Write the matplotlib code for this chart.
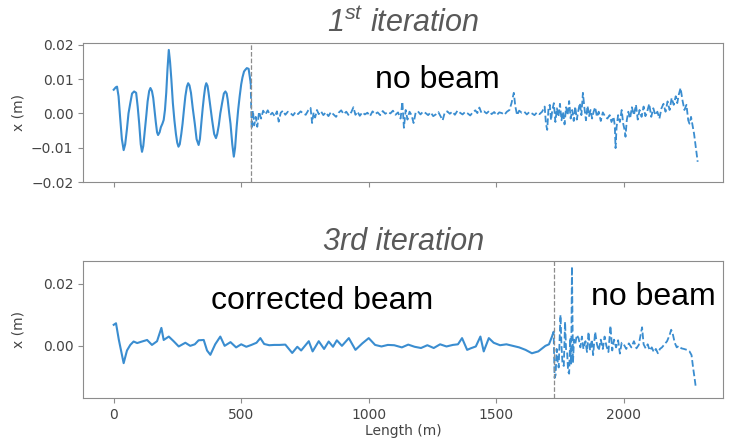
import numpy as np
import matplotlib
matplotlib.use('Agg')
import matplotlib.pyplot as plt

plt.rcParams['mathtext.fontset'] = 'custom'
plt.rcParams['mathtext.it'] = 'Liberation Sans:italic'
plt.rcParams['mathtext.rm'] = 'Liberation Sans:italic'

# 1st iteration, beam part (s in m, x in mm)
s1_beam = [0, 8, 13, 19, 25, 32, 39, 45, 52, 58,
           65, 72, 80, 88, 94, 100, 106, 111, 116, 122,
           128, 133, 139, 144, 150, 155, 160, 165, 170, 174,
           180, 185, 191, 196, 201, 206, 211, 216, 221, 226,
           232, 238, 244, 249, 254, 259, 265, 270, 276, 281,
           287, 292, 297, 303, 310, 318, 325, 333, 338, 344,
           349, 354, 359, 363, 368, 372, 379, 386, 394, 401,
           406, 412, 418, 425, 432, 438, 443, 447, 453, 458,
           465, 471, 476, 482, 488, 494, 500, 505, 511, 516,
           522, 529, 537]
x1_beam = [6.9, 7.6, 7.8, 5.0, -1.0, -7.5, -10.7, -9.0, -4.5, 0.0,
           3.0, 5.8, 6.4, 6.0, 2.0, -3.0, -9.0, -11.2, -9.5, -5.0,
           -0.5, 3.5, 6.5, 7.4, 6.5, 4.5, 1.0, -2.5, -5.5, -6.3,
           -5.5, -4.0, -3.0, -1.9, 1.0, 6.0, 13.0, 18.5, 15.0, 10.0,
           3.0, -2.0, -6.0, -8.5, -9.7, -9.0, -6.0, -3.0, 1.5, 5.0,
           7.8, 8.8, 8.2, 6.0, 1.5, -3.0, -7.5, -9.2, -7.5, -2.5,
           1.5, 5.0, 7.8, 8.8, 8.0, 6.0, 2.0, -2.0, -6.0, -7.2,
           -6.0, -3.5, 0.0, 3.0, 5.8, 6.4, 5.8, 4.0, 0.0, -3.0,
           -9.0, -12.6, -10.0, -4.0, 1.0, 5.0, 8.5, 10.5, 12.2, 12.7,
           13.2, 13.0, 9.0]

# 1st iteration, no beam part
s1_nobeam = [537, 541, 546, 551, 557, 563, 570, 578, 586, 595,
             604, 613, 622, 632, 640, 647, 655, 664, 673, 683,
             693, 703, 713, 723, 733, 743, 753, 763, 772, 778,
             784, 790, 797, 804, 813, 822, 832, 842, 852, 862,
             872, 882, 892, 902, 912, 922, 932, 940, 948, 956,
             965, 975, 985, 995, 1005, 1015, 1025, 1035, 1045, 1055,
             1065, 1075, 1085, 1095, 1105, 1115, 1125, 1132, 1138, 1145,
             1152, 1160, 1168, 1176, 1184, 1193, 1203, 1213, 1223, 1233,
             1243, 1253, 1263, 1273, 1283, 1290, 1298, 1308, 1318, 1328,
             1338, 1348, 1358, 1368, 1378, 1388, 1398, 1408, 1418, 1426,
             1434, 1442, 1452, 1462, 1472, 1482, 1492, 1502, 1512, 1522,
             1532, 1542, 1552, 1560, 1569, 1575, 1582, 1590, 1600, 1610,
             1620, 1630, 1640, 1650, 1660, 1670, 1680, 1690, 1695, 1700,
             1705, 1710, 1715, 1720, 1726, 1732, 1738, 1744, 1750, 1756,
             1762, 1768, 1774, 1780, 1786, 1792, 1798, 1804, 1810, 1816,
             1822, 1828, 1834, 1840, 1846, 1852, 1858, 1864, 1870, 1876,
             1882, 1888, 1895, 1902, 1910, 1918, 1928, 1936, 1945, 1952,
             1960, 1965, 1968, 1972, 1978, 1985, 1992, 1998, 2004, 2007,
             2012, 2018, 2025, 2032, 2040, 2048, 2055, 2062, 2070, 2078,
             2085, 2092, 2100, 2108, 2116, 2124, 2132, 2140, 2148, 2156,
             2164, 2172, 2180, 2188, 2196, 2204, 2210, 2216, 2223, 2230,
             2238, 2246, 2253, 2258, 2264, 2270, 2276, 2283, 2290]
x1_nobeam = [9.0, -4.5, 0.8, -3.5, -1.0, -3.9, 0.5, -1.5, 0.8, -0.3,
             0.9, -0.5, 0.2, -0.9, 0.6, -2.4, 0.2, 0.8, -0.4, 0.5,
             0.1, -0.6, 0.4, -0.2, 0.6, 0.0, -0.4, 0.9, 1.6, -2.8,
             0.3, -1.2, 1.0, -0.2, 0.6, -0.5, 0.3, -0.8, 0.4, -0.3,
             -1.0, 0.2, 0.9, -0.2, 0.5, -0.6, 0.4, 1.8, -0.4, 0.5,
             -0.7, 0.3, -0.3, 0.2, -0.8, 0.6, -0.2, 0.3, -0.5, 0.7,
             -0.1, 0.4, 0.0, 0.8, -0.4, 0.3, -1.5, 3.4, -4.2, 1.0,
             -1.8, 0.5, -0.5, -2.8, 0.2, 0.6, -0.3, 0.5, 0.1, -0.5,
             0.3, -0.8, -0.3, 0.4, -1.0, -2.0, 0.2, 0.6, -0.1, 0.5,
             -0.4, 0.8, 0.2, -0.3, 0.4, 0.0, -0.6, 0.3, 0.9, 0.1,
             1.7, 0.2, 0.6, 0.0, 0.7, -0.2, 0.4, -0.5, 0.3, 0.1,
             -0.4, 0.5, 1.0, 3.0, 6.0, 2.0, -0.5, 0.8, 0.2, 0.5,
             -0.3, 0.4, 0.0, -0.5, 0.3, -0.2, 0.5, 2.0, -3.0, -4.8,
             1.5, 2.5, -2.0, 1.0, 3.0, -2.5, 1.5, -1.0, 2.8, -2.0,
             0.5, -3.2, 1.8, -0.5, 3.6, -1.5, 1.0, -2.2, 2.0, -1.8,
             0.8, 3.0, -0.5, 6.0, 1.5, -2.0, 2.2, -0.8, 1.0, -1.5,
             0.5, 1.8, -1.0, 0.5, -2.2, 0.3, -1.0, -1.5, -0.5, -2.5,
             -1.0, -3.5, -10.1, -4.0, -0.5, -2.5, 1.0, -3.0, -5.0, -6.8,
             -2.0, 0.5, -1.5, 1.8, -0.5, 2.5, -1.8, 1.0, -1.0, 2.0,
             -0.8, 0.5, 2.8, -1.0, 1.5, -0.5, 0.5, -1.5, 1.5, 2.8,
             0.5, 3.5, 1.0, 4.5, 2.5, 5.0, 3.0, 5.5, 7.4, 4.0,
             1.0, 2.5, -2.0, -3.0, -1.0, -3.5, -6.0, -10.0, -14.1]

# 3rd iteration, corrected beam part
s3_beam = [0, 9, 20, 39, 52, 65, 78, 92, 111, 131,
           150, 170, 187, 196, 216, 235, 255, 270, 281, 300,
           318, 333, 353, 366, 379, 398, 418, 435, 458, 480,
           500, 520, 540, 560, 575, 590, 610, 630, 650, 673,
           700, 720, 735, 765, 780, 804, 825, 843, 860, 875,
           895, 922, 948, 975, 1000, 1025, 1050, 1075, 1100, 1130,
           1155, 1180, 1205, 1230, 1255, 1280, 1305, 1330, 1350, 1366,
           1386, 1400, 1420, 1438, 1451, 1471, 1490, 1515, 1540, 1565,
           1590, 1615, 1640, 1665, 1693, 1707, 1721]
x3_beam = [6.8, 7.3, 2.0, -5.6, -1.5, 0.3, 1.4, 0.9, 1.4, 1.9,
           0.3, 1.5, 5.8, 1.9, 3.0, 1.5, -0.2, 0.5, 1.0, 0.0,
           0.5, 1.8, 1.9, -1.5, -2.9, 0.5, 3.0, 0.0, 1.2, -0.5,
           0.5, -0.3, 0.3, 1.0, 2.5, 0.6, 0.2, 0.3, 0.3, 0.4,
           -2.3, -0.3, -1.5, 1.5, -1.8, 1.5, -1.0, 1.4, -0.3, 1.8,
           0.0, 2.5, -1.3, 0.8, 2.5, 0.3, -0.2, 0.3, 0.2, -0.5,
           0.4, -0.3, -0.7, 0.2, -0.7, 0.5, -0.2, 0.3, 0.5, 2.5,
           -1.3, -0.8, -0.2, 3.0, -1.8, 2.5, 1.0, 0.2, 0.5, 0.0,
           -0.5, -1.3, -2.4, -1.8, 0.0, 0.5, 3.5]

# 3rd iteration, no beam part
s3_nobeam = [1721, 1725, 1729, 1733, 1737, 1741, 1745, 1749, 1752, 1756,
             1760, 1765, 1770, 1774, 1778, 1782, 1786, 1790, 1794, 1797,
             1801, 1805, 1810, 1816, 1823, 1830, 1836, 1842, 1850, 1856,
             1862, 1868, 1875, 1880, 1888, 1895, 1902, 1910, 1918, 1925,
             1932, 1940, 1948, 1955, 1962, 1970, 1978, 1985, 1992, 2000,
             2010, 2020, 2030, 2040, 2050, 2059, 2065, 2072, 2078, 2086,
             2094, 2102, 2110, 2118, 2126, 2134, 2142, 2150, 2160, 2170,
             2180, 2186, 2192, 2200, 2208, 2216, 2226, 2236, 2248, 2258,
             2266, 2272, 2278, 2283]
x3_nobeam = [3.5, 4.6, -10.4, -9.4, -1.0, -5.0, -7.0, 3.0, 10.0, 0.0,
             -6.0, -6.5, 7.8, -1.5, -2.0, -8.3, -9.0, 2.5, -6.0, 25.6,
             -5.5, 2.0, 0.5, 3.5, 2.5, -0.5, 3.0, -1.0, 1.5, -2.0,
             4.5, -1.5, 2.0, -3.0, 4.5, 0.5, -1.5, 2.0, -1.0, 3.0,
             0.0, -2.0, 6.5, -1.5, 2.0, -0.5, 1.8, -2.5, 1.0, 0.5,
             -1.0, 0.8, -0.5, 1.5, -0.8, 0.3, 3.0, 6.0, 0.5, -0.8,
             0.5, -1.5, -0.5, -2.0, -1.0, -2.4, -1.0, -0.5, 0.5, 1.5,
             3.5, 5.2, 4.0, 1.0, -0.5, 0.0, -0.8, -1.0, -1.3, -1.8,
             -3.0, -7.0, -10.5, -13.6]

s_switch1 = 537
s_switch3 = 1725

blue = '#3a8dd0'
grey = '#8c8c8c'
txt = '#444444'

fig = plt.figure(figsize=(7.29, 4.44), dpi=100)
ax1 = fig.add_axes([0.114, 0.590, 0.878, 0.313])
ax2 = fig.add_axes([0.114, 0.104, 0.878, 0.308])

ax1.plot(s1_beam, np.array(x1_beam) / 1000, color=blue, lw=1.5, solid_joinstyle='round')
ax1.plot(s1_nobeam, np.array(x1_nobeam) / 1000, color=blue, lw=1.3, ls='--')
ax1.axvline(s_switch1, color=grey, ls='--', lw=0.9)
ax1.set_ylim(-0.02, 0.0205)
ax1.set_yticks([-0.02, -0.01, 0.0, 0.01, 0.02])
ax1.set_yticklabels(['\u22120.02', '\u22120.01', '0.00', '0.01', '0.02'])
ax1.set_xticks([0, 500, 1000, 1500, 2000])
ax1.set_xticklabels([])
ax1.text(1023, 0.0074, 'no beam', fontsize=23, family='Liberation Sans', color='black')
ax1.set_title(r'$1^{st}$ iteration', fontsize=22, family='Liberation Sans', style='italic',
              color='#595959', pad=8)
ax1.set_ylabel('x (m)', color=txt, fontsize=10)

ax2.plot(s3_beam, np.array(x3_beam) / 1000, color=blue, lw=1.5, solid_joinstyle='round')
ax2.plot(s3_nobeam, np.array(x3_nobeam) / 1000, color=blue, lw=1.3, ls='--')
ax2.axvline(s_switch3, color=grey, ls='--', lw=0.9)
ax2.set_ylim(-0.0168, 0.0274)
ax2.set_yticks([0.0, 0.02])
ax2.set_xticks([0, 500, 1000, 1500, 2000])
ax2.text(380, 0.0119, 'corrected beam', fontsize=23, family='Liberation Sans', color='black')
ax2.text(1871, 0.0131, 'no beam', fontsize=23, family='Liberation Sans', color='black')
ax2.set_title('3rd iteration', fontsize=22, family='Liberation Sans', style='italic',
              color='#595959', pad=8)
ax2.set_ylabel('x (m)', color=txt, fontsize=10)
ax2.set_xlabel('Length (m)', color=txt, fontsize=10, labelpad=2)

for ax in (ax1, ax2):
    ax.set_xlim(-120, 2390)
    for sp in ax.spines.values():
        sp.set_color(grey)
    ax.tick_params(colors=grey, labelcolor=txt, labelsize=10)
    ax.yaxis.set_label_coords(-0.09, 0.5)

fig.savefig('out.png', dpi=100)
